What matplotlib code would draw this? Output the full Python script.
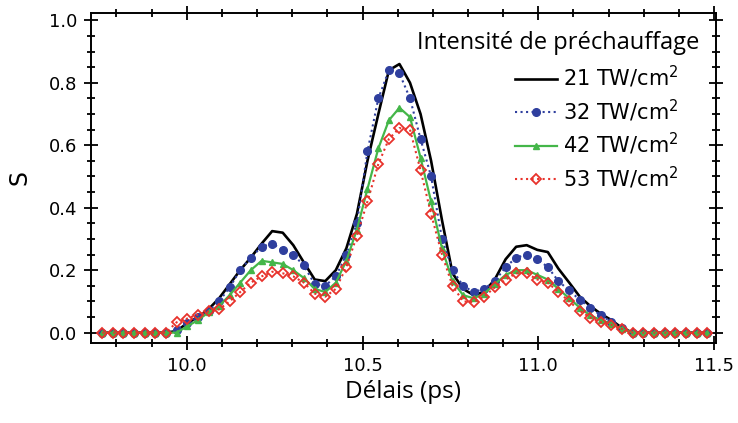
import matplotlib
matplotlib.use("Agg")
import matplotlib.pyplot as plt
from matplotlib.ticker import MultipleLocator

plt.rcParams["font.family"] = "DejaVu Sans"
plt.rcParams["mathtext.fontset"] = "dejavusans"

# delay grid (ps)
delay = [9.760, 9.790, 9.820, 9.851, 9.881, 9.911, 9.941, 9.971, 10.001, 10.032,
         10.062, 10.092, 10.122, 10.152, 10.182, 10.213, 10.243, 10.273, 10.303, 10.333,
         10.364, 10.394, 10.424, 10.454, 10.484, 10.514, 10.545, 10.575, 10.605, 10.635,
         10.665, 10.695, 10.726, 10.756, 10.786, 10.816, 10.846, 10.876, 10.907, 10.937,
         10.967, 10.997, 11.027, 11.057, 11.088, 11.118, 11.148, 11.178, 11.208, 11.238,
         11.269, 11.299, 11.329, 11.359, 11.389, 11.419, 11.450, 11.480]

s_21 = [0, 0, 0, 0, 0, 0, 0, 0.005, 0.03, 0.05,
        0.075, 0.11, 0.155, 0.20, 0.24, 0.285, 0.325, 0.32, 0.28, 0.225,
        0.17, 0.165, 0.20, 0.27, 0.38, 0.55, 0.70, 0.84, 0.86, 0.80,
        0.70, 0.55, 0.36, 0.19, 0.14, 0.12, 0.13, 0.17, 0.235, 0.275,
        0.28, 0.265, 0.258, 0.205, 0.16, 0.115, 0.085, 0.06, 0.04, 0.015,
        0, 0, 0, 0, 0, 0, 0, 0]

s_32 = [0, 0, 0, 0, 0, 0, 0, 0.01, 0.03, 0.05,
        0.07, 0.10, 0.145, 0.20, 0.24, 0.275, 0.285, 0.265, 0.25, 0.215,
        0.155, 0.15, 0.18, 0.25, 0.35, 0.58, 0.75, 0.84, 0.83, 0.75,
        0.62, 0.50, 0.30, 0.20, 0.15, 0.13, 0.14, 0.165, 0.21, 0.24,
        0.25, 0.235, 0.21, 0.165, 0.135, 0.105, 0.08, 0.055, 0.035, 0.015,
        0, 0, 0, 0, 0, 0, 0, 0]

s_42 = [0, 0, 0, 0, 0, 0, 0, 0.0, 0.02, 0.04,
        0.065, 0.085, 0.12, 0.16, 0.20, 0.23, 0.225, 0.22, 0.20, 0.175,
        0.14, 0.13, 0.16, 0.23, 0.33, 0.46, 0.59, 0.68, 0.72, 0.69,
        0.56, 0.42, 0.27, 0.165, 0.12, 0.11, 0.125, 0.155, 0.185, 0.20,
        0.20, 0.185, 0.17, 0.14, 0.11, 0.08, 0.055, 0.04, 0.028, 0.012,
        0, 0, 0, 0, 0, 0, 0, 0]

s_53 = [0, 0, 0, 0, 0, 0, 0, 0.033, 0.045, 0.058,
        0.068, 0.075, 0.10, 0.13, 0.16, 0.18, 0.195, 0.19, 0.18, 0.16,
        0.125, 0.115, 0.14, 0.21, 0.31, 0.42, 0.54, 0.62, 0.655, 0.65,
        0.52, 0.38, 0.25, 0.15, 0.10, 0.098, 0.115, 0.145, 0.17, 0.19,
        0.19, 0.17, 0.16, 0.13, 0.10, 0.07, 0.048, 0.033, 0.025, 0.012,
        0, 0, 0, 0, 0, 0, 0, 0]

labels = ["21 TW/cm$^{2}$", "32 TW/cm$^{2}$", "42 TW/cm$^{2}$", "53 TW/cm$^{2}$"]

fig = plt.figure(figsize=(7.38, 4.23), dpi=100)
ax = fig.add_axes([0.123, 0.19, 0.847, 0.779])

ax.plot(delay, s_21, color="black", lw=1.9, label=labels[0])
ax.plot(delay, s_32, color="#2f3f9e", lw=1.5, ls=":", marker="o", ms=5.5,
        label=labels[1])
ax.plot(delay, s_42, color="#44b649", lw=1.6, marker="^", ms=4.5,
        label=labels[2])
ax.plot(delay, s_53, color="#e8322b", lw=1.5, ls=":", marker="D", ms=5,
        mfc="none", mew=1.3, label=labels[3])

ax.set_xlim(9.727, 11.505)
ax.set_ylim(-0.032, 1.023)
ax.xaxis.set_major_locator(MultipleLocator(0.5))
ax.xaxis.set_minor_locator(MultipleLocator(0.1))
ax.yaxis.set_major_locator(MultipleLocator(0.2))
ax.yaxis.set_minor_locator(MultipleLocator(0.05))
ax.xaxis.set_major_formatter(lambda v, p: f"{v:.1f}")
ax.yaxis.set_major_formatter(lambda v, p: f"{v:.1f}")

ax.tick_params(which="both", direction="inout", top=True, right=True, width=1.3)
ax.tick_params(which="major", length=10, labelsize=13, pad=5)
ax.tick_params(which="minor", length=6)
for sp in ax.spines.values():
    sp.set_linewidth(1.4)

ax.set_xlabel("Délais (ps)", family="Open Sans", fontsize=17.5, labelpad=4)
ax.set_ylabel("S", fontsize=17, labelpad=12)

# legend title drawn separately: it sticks out to the right of the entries
ax.text(0.974, 0.91, "Intensité de préchauffage", transform=ax.transAxes,
        ha="right", va="center", family="Open Sans", fontsize=17)
ax.legend(loc="upper right", bbox_to_anchor=(0.94, 0.845), frameon=False,
          fontsize=15, handlelength=2.0, handletextpad=0.3, labelspacing=0.35,
          borderaxespad=0, borderpad=0)

fig.savefig("out.png", dpi=100)
